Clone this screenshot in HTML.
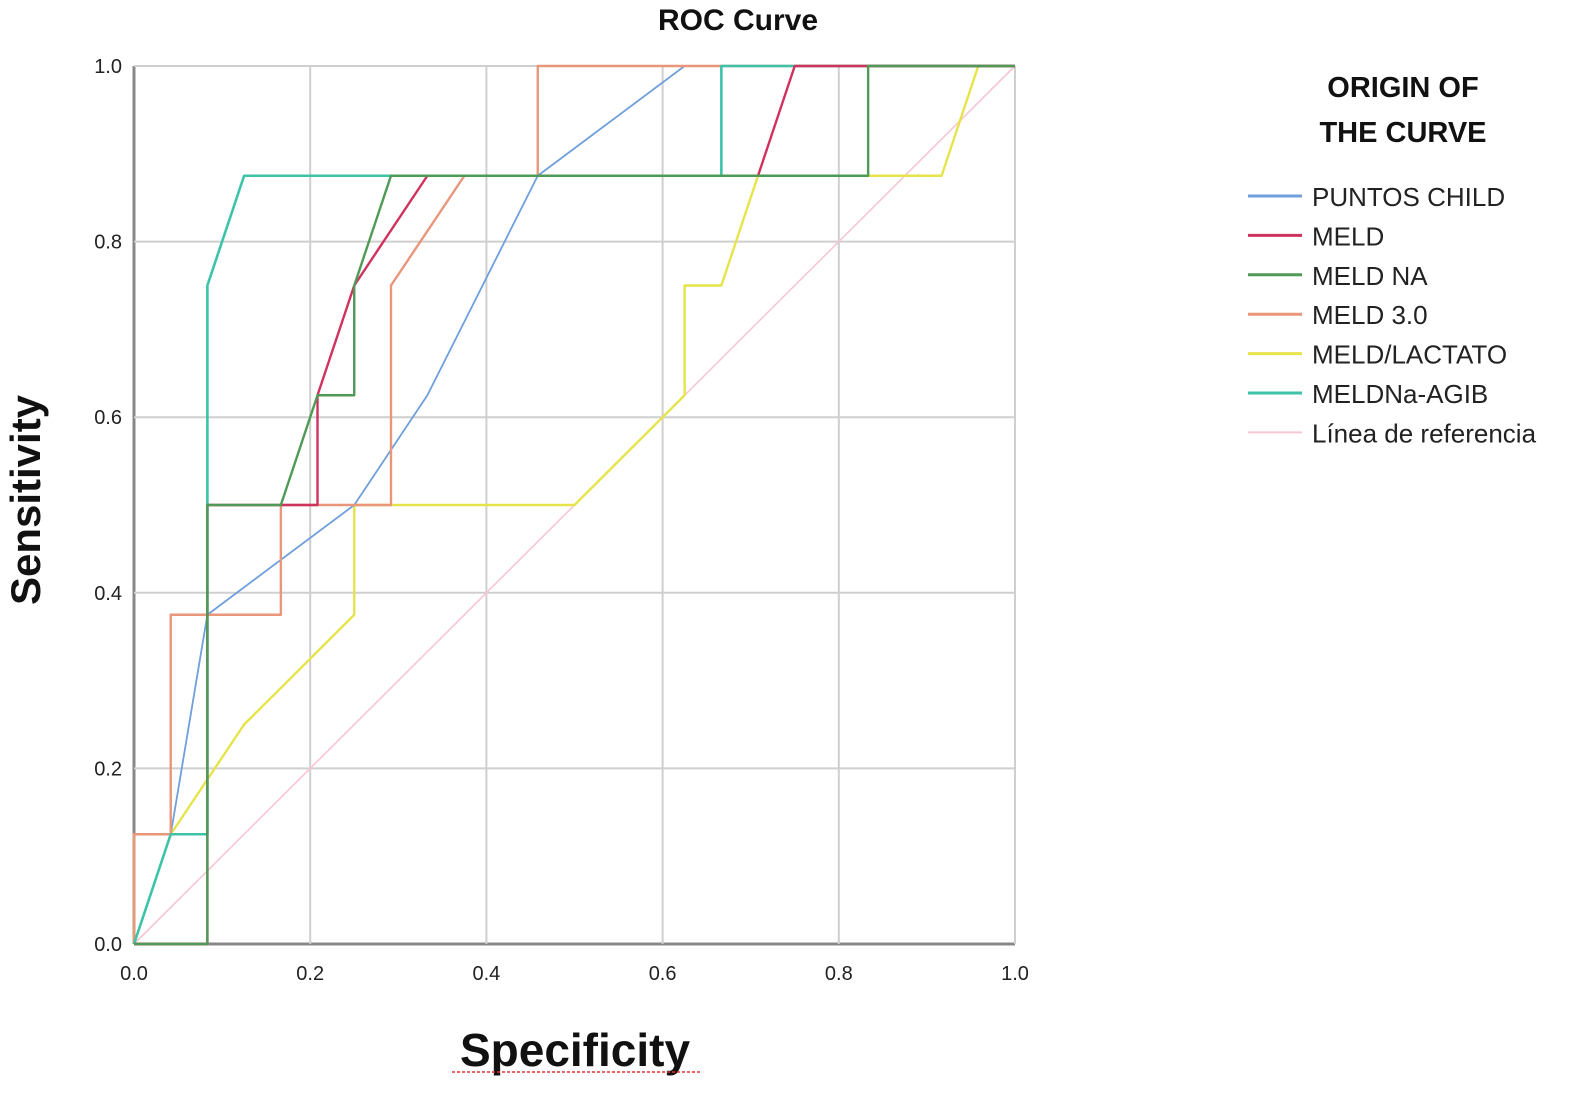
<!DOCTYPE html>
<html><head><meta charset="utf-8"><style>
html,body{margin:0;padding:0;background:#fff;}
svg{display:block;font-family:"Liberation Sans",sans-serif;}
</style></head><body>
<svg id="chart" width="1583" height="1110" viewBox="0 0 1583 1110">
<text x="738" y="30" text-anchor="middle" font-size="30" font-weight="bold" fill="#111">ROC Curve</text>
<g id="grid"></g>
<g id="series"></g>
<g id="ticks"></g>
<text x="575" y="1066" text-anchor="middle" font-size="46" font-weight="bold" fill="#111">Specificity</text>
<line x1="452" y1="1072" x2="702" y2="1072" stroke="#d33" stroke-width="1.5" stroke-dasharray="3,2"/>
<text transform="translate(40,500) rotate(-90)" text-anchor="middle" font-size="42" font-weight="bold" fill="#111">Sensitivity</text>
<text x="1403" y="97" text-anchor="middle" font-size="29" font-weight="bold" fill="#111">ORIGIN OF</text>
<text x="1403" y="142" text-anchor="middle" font-size="29" font-weight="bold" fill="#111">THE CURVE</text>
<g id="legend"></g>
</svg>
<script>
const NS="http://www.w3.org/2000/svg";
const tickVals=[0,0.2,0.4,0.6,0.8,1.0];
const tickLabels=["0.0","0.2","0.4","0.6","0.8","1.0"];
const seriesNames=["Línea de referencia","MELD/LACTATO","PUNTOS CHILD","MELD 3.0","MELDNa-AGIB","MELD","MELD NA"];
const refX=[0,1]; const refY=[0,1];
const lacX=[0,0,0.0417,0.125,0.25,0.25,0.5,0.625,0.625,0.6667,0.7083,0.9167,0.9583,1];
const lacY=[0,0.125,0.125,0.25,0.375,0.5,0.5,0.625,0.75,0.75,0.875,0.875,1,1];
const childX=[0,0.0417,0.0833,0.25,0.333,0.4583,0.625,1];
const childY=[0,0.125,0.375,0.5,0.625,0.875,1,1];
const m3X=[0,0,0.0417,0.0417,0.1667,0.1667,0.2917,0.2917,0.375,0.4583,0.4583,1];
const m3Y=[0,0.125,0.125,0.375,0.375,0.5,0.5,0.75,0.875,0.875,1,1];
const agibX=[0,0.0417,0.0833,0.0833,0.125,0.6667,0.6667,1];
const agibY=[0,0.125,0.125,0.75,0.875,0.875,1,1];
const meldX=[0,0.0833,0.0833,0.2083,0.2083,0.25,0.333,0.7083,0.75,1];
const meldY=[0,0,0.5,0.5,0.625,0.75,0.875,0.875,1,1];
const naX=[0,0.0833,0.0833,0.1667,0.2083,0.25,0.25,0.2917,0.8333,0.8333,1];
const naY=[0,0,0.5,0.5,0.625,0.625,0.75,0.875,0.875,1,1];
const allX=[refX,lacX,childX,m3X,agibX,meldX,naX];
const allY=[refY,lacY,childY,m3Y,agibY,meldY,naY];
const colors=["#f7c6d3","#e6e44a","#6f9fdc","#e9967a","#3cc3a8","#d0325e","#4f9a56"];
const widths=[1.6,2.4,1.8,2.4,2.6,2.4,2.4];
const X0=134,X1=1015,Y0=944,Y1=66;
function sx(v){return X0+(X1-X0)*v;}
function sy(v){return Y0-(Y0-Y1)*v;}
const grid=document.getElementById('grid');
tickVals.forEach((t,i)=>{
  const v=document.createElementNS(NS,'line');
  v.setAttribute('x1',sx(t));v.setAttribute('x2',sx(t));v.setAttribute('y1',Y1);v.setAttribute('y2',Y0);
  v.setAttribute('stroke',(i==0)?'#888':'#cfcfcf');v.setAttribute('stroke-width',i==0?3:2);
  
  
  grid.appendChild(v);
  const h=document.createElementNS(NS,'line');
  h.setAttribute('y1',sy(t));h.setAttribute('y2',sy(t));h.setAttribute('x1',X0);h.setAttribute('x2',X1);
  h.setAttribute('stroke',(i==0)?'#888':'#cfcfcf');h.setAttribute('stroke-width',i==0?3:2);
  
  
  grid.appendChild(h);
});
const ticks=document.getElementById('ticks');
tickVals.forEach((t,i)=>{
  const a=document.createElementNS(NS,'text');
  a.setAttribute('x',sx(t));a.setAttribute('y',980);a.setAttribute('text-anchor','middle');
  a.setAttribute('font-size','20');a.setAttribute('fill','#222');a.textContent=tickLabels[i];
  
  
  ticks.appendChild(a);
  const b=document.createElementNS(NS,'text');
  b.setAttribute('x',122);b.setAttribute('y',sy(t)+7);b.setAttribute('text-anchor','end');
  b.setAttribute('font-size','20');b.setAttribute('fill','#222');b.textContent=tickLabels[i];
  
  
  ticks.appendChild(b);
});
const sg=document.getElementById('series');
allX.forEach((xs,k)=>{
  const p=document.createElementNS(NS,'polyline');
  p.setAttribute('points',xs.map((x,j)=>sx(x)+','+sy(allY[k][j])).join(' '));
  p.setAttribute('fill','none');p.setAttribute('stroke',colors[k]);p.setAttribute('stroke-width',widths[k]);
  p.setAttribute('stroke-linejoin','round');
  
  
  sg.appendChild(p);
});
const legOrder=[2,5,6,3,1,4,0];
const lg=document.getElementById('legend');
legOrder.forEach((k,i)=>{
  const y=196+i*39.4;
  const l=document.createElementNS(NS,'line');
  l.setAttribute('x1',1248);l.setAttribute('x2',1302);l.setAttribute('y1',y);l.setAttribute('y2',y);
  l.setAttribute('stroke',colors[k]);l.setAttribute('stroke-width',k==0?2:3);
  
  
  lg.appendChild(l);
  const t=document.createElementNS(NS,'text');
  t.setAttribute('x',1312);t.setAttribute('y',y+10);t.setAttribute('font-size','26');t.setAttribute('fill','#222');
  t.textContent=seriesNames[k];
  
  
  lg.appendChild(t);
});
</script>
</body></html>
